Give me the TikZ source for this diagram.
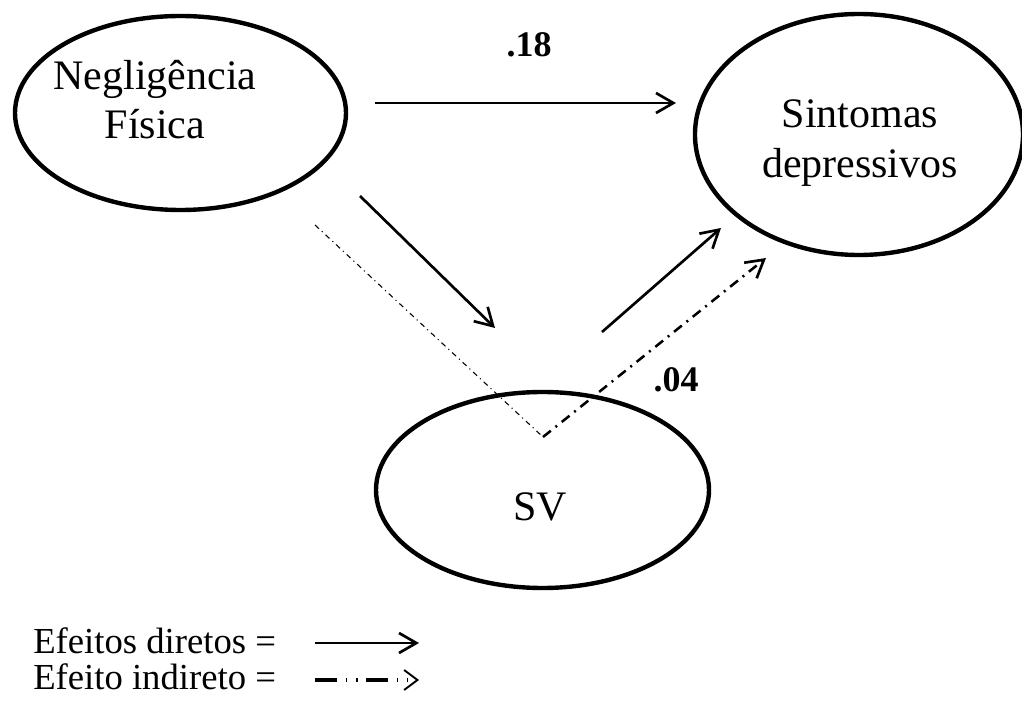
\documentclass[tikz,border=0pt]{standalone}
\usepackage{fontspec}
\setmainfont{Liberation Serif}
\usetikzlibrary{shapes.geometric,arrows.meta}

\tikzset{
  construct/.style={ellipse, draw, line width=3.3pt, inner sep=0pt},
  bigtext/.style={font=\fontsize{31.5}{37}\selectfont, inner sep=0pt, anchor=base},
  coef/.style={font=\fontsize{27}{32}\selectfont\bfseries, inner sep=0pt, anchor=base},
  legendtext/.style={font=\fontsize{27.5}{32}\selectfont, inner sep=0pt, anchor=base west},
  barb/.style={-{Straight Barb[length=13pt, width=15pt, line width=2pt]}},
  direct/.style={barb, line width=2pt},
  indirectfaint/.style={line width=0.8pt, dash pattern=on 4pt off 3pt on 0.8pt off 3pt},
  indirectpath/.style={barb, line width=1.9pt, dash pattern=on 7.5pt off 4.5pt on 1.5pt off 4.5pt},
  legendindirect/.style={-{Straight Barb[length=10pt, width=15pt, line width=1.4pt]},
    line width=2.3pt, dash pattern=on 16.5pt off 6.5pt on 1.3pt off 6.3pt on 1.3pt off 6.3pt}
}

\begin{document}
\begin{tikzpicture}[x=0.75pt, y=-0.75pt]
  \useasboundingbox (0,0) rectangle (1022,709);

  % latent variables (sizes in pt; 1 unit = 0.75pt)
  \node[construct, minimum width=248.25pt, minimum height=145.5pt] (neg) at (180.5,113) {};
  \node[construct, minimum width=246pt, minimum height=180.75pt] (sint) at (859,134.5) {};
  \node[construct, minimum width=249.75pt, minimum height=147pt] (sv) at (542.5,490) {};

  % variable names
  \node[bigtext] (negA) at (155,90) {Negligência};
  \node[bigtext] (negB) at (155,139) {Física};
  \node[bigtext] (sintA) at (860,128) {Sintomas};
  \node[bigtext] (sintB) at (860,178) {depressivos};
  \node[bigtext] (svA) at (540,521) {SV};

  % path end points
  \coordinate (p1s) at (375,103);
  \coordinate (p1e) at (676,103);
  \coordinate (p2s) at (360,196);
  \coordinate (p2e) at (495,328);
  \coordinate (p3s) at (602,332);
  \coordinate (p3e) at (721,228);
  \coordinate (i0) at (315,225);
  \coordinate (i1) at (543,437);
  \coordinate (i2) at (766,258);

  % direct effects
  \draw[direct] (p1s) -- (p1e);
  \draw[direct] (p2s) -- (p2e);
  \draw[direct] (p3s) -- (p3e);

  % indirect effect
  \draw[indirectfaint] (i0) -- (i1);
  \draw[indirectpath] (i1) -- (i2);

  % coefficients
  \node[coef] (c18) at (529,57) {.18};
  \node[coef] (c04) at (676,392) {.04};

  % legend
  \node[legendtext] (lgA) at (33,653) {Efeitos diretos =};
  \node[legendtext] (lgB) at (33,689) {Efeito indireto =};
  \coordinate (l1s) at (315,643);
  \coordinate (l1e) at (419,643);
  \coordinate (l2s) at (315,680);
  \coordinate (l2e) at (419,680);
  \draw[direct] (l1s) -- (l1e);
  \draw[legendindirect] (l2s) -- (l2e);
\end{tikzpicture}
\end{document}
